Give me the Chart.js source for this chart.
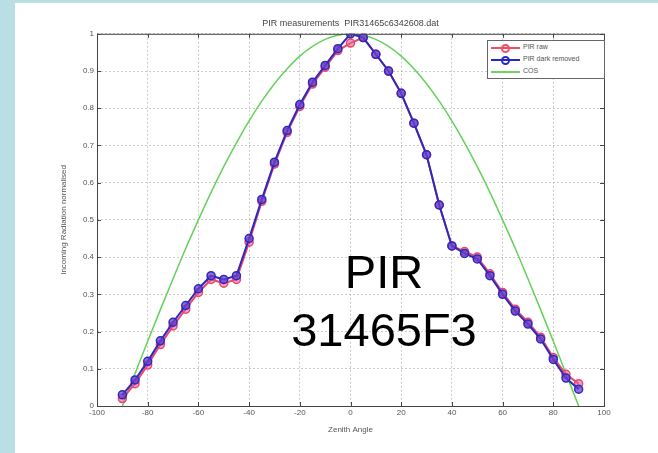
<!DOCTYPE html>
<html>
<head>
<meta charset="utf-8">
<script src="https://cdn.jsdelivr.net/npm/chart.js@4.4.0/dist/chart.umd.min.js"></script>
<style>
    body { margin: 0; background: rgb(185, 222, 227); }
    #page { position: absolute; left: 15px; top: 3px; width: 643px; height: 450px; background: #fff; z-index: -1; }
    #chart { position: absolute; left: 0; top: 0; }
    #legend { position: absolute; left: 487px; top: 40px; width: 116px; height: 37px; border: 1px solid #666; background: #fff;
              font-family: "Liberation Sans", Arial, sans-serif; font-size: 7px; color: #555; }
    .row { position: absolute; left: 0; width: 116px; height: 12px; }
    .row .line { position: absolute; left: 3px; top: 5px; width: 29px; height: 2px; }
    .row .dot { position: absolute; left: 13px; top: 2px; width: 5px; height: 5px; border-radius: 50%; border: 2px solid; }
    .row span { position: absolute; left: 35px; top: 1px; }
    #label { position: absolute; left: 284px; top: 243px; width: 200px; text-align: center;
             font-family: "Liberation Sans", Arial, sans-serif; font-size: 47px; line-height: 58px; color: #000; }
</style>
</head>
<body>
<div id="page"></div>
<canvas id="chart" width="658" height="453"></canvas>
<div id="legend">
    <div class="row" style="top:1px"><div class="line" style="background:rgb(240,80,100)"></div><div class="dot" style="border-color:rgb(240,80,100)"></div><span>PIR raw</span></div>
    <div class="row" style="top:13px"><div class="line" style="background:rgb(40,40,200)"></div><div class="dot" style="border-color:rgb(40,40,200)"></div><span>PIR dark removed</span></div>
    <div class="row" style="top:25px"><div class="line" style="background:rgb(110,210,100)"></div><span>COS</span></div>
</div>
<div id="label">PIR<br>31465F3</div>

<script>
// data
const angles = [-90, -85, -80, -75, -70, -65, -60, -55, -50, -45, -40, -35, -30, -25, -20, -15, -10, -5, 0,
                5, 10, 15, 20, 25, 30, 35, 40, 45, 50, 55, 60, 65, 70, 75, 80, 85, 90];

const pirRaw = [0.02, 0.06, 0.11, 0.165, 0.215, 0.26, 0.305, 0.34, 0.33, 0.34, 0.44, 0.55, 0.65, 0.735, 0.805, 0.865, 0.91, 0.955, 0.975,
                0.99, 0.945, 0.9, 0.84, 0.76, 0.675, 0.54, 0.43, 0.415, 0.4, 0.355, 0.305, 0.26, 0.225, 0.185, 0.13, 0.085, 0.06];

const pirDarkRemoved = [0.03, 0.07, 0.12, 0.175, 0.225, 0.27, 0.315, 0.35, 0.34, 0.35, 0.45, 0.555, 0.655, 0.74, 0.81, 0.87, 0.915, 0.96, 1.0,
                        0.99, 0.945, 0.9, 0.84, 0.76, 0.675, 0.54, 0.43, 0.41, 0.395, 0.35, 0.3, 0.255, 0.22, 0.18, 0.125, 0.075, 0.045];

const cosCurve = [0, 0.087, 0.174, 0.259, 0.342, 0.423, 0.5, 0.574, 0.643, 0.707, 0.766, 0.819, 0.866, 0.906, 0.94, 0.966, 0.985, 0.996, 1.0,
                  0.996, 0.985, 0.966, 0.94, 0.906, 0.866, 0.819, 0.766, 0.707, 0.643, 0.574, 0.5, 0.423, 0.342, 0.259, 0.174, 0.087, 0];

const xTicks = [-100, -80, -60, -40, -20, 0, 20, 40, 60, 80, 100];
const yTicks = [0, 0.1, 0.2, 0.3, 0.4, 0.5, 0.6, 0.7, 0.8, 0.9, 1];

function toPoints(values) {
    return angles.map((a, i) => ({ x: a, y: values[i] }));
}

const tickFont = { family: 'Liberation Sans', size: 8 };

// box around the axes with small inward ticks (matlab style)
const framePlugin = {
    id: 'frame',
    afterDatasetsDraw(chart) {
        const { ctx, chartArea: a, scales } = chart;
        ctx.save();
        ctx.strokeStyle = '#444';
        ctx.lineWidth = 1;
        ctx.strokeRect(a.left + 0.5, a.top + 0.5, a.right - a.left, a.bottom - a.top);
        ctx.beginPath();
        xTicks.forEach(v => {
            const px = Math.round(scales.x.getPixelForValue(v)) + 0.5;
            ctx.moveTo(px, a.bottom); ctx.lineTo(px, a.bottom - 4);
            ctx.moveTo(px, a.top); ctx.lineTo(px, a.top + 4);
        });
        yTicks.forEach(v => {
            const py = Math.round(scales.y.getPixelForValue(v)) + 0.5;
            ctx.moveTo(a.left, py); ctx.lineTo(a.left + 4, py);
            ctx.moveTo(a.right, py); ctx.lineTo(a.right - 4, py);
        });
        ctx.stroke();
        ctx.restore();
    }
};

new Chart(document.getElementById('chart'), {
    type: 'line',
    data: {
        datasets: [
            {
                label: 'PIR dark removed',
                data: toPoints(pirDarkRemoved),
                borderColor: 'rgb(45, 40, 190)',
                backgroundColor: 'rgba(105, 65, 205, 0.75)',
                borderWidth: 2,
                pointRadius: 4,
                pointBorderWidth: 1.5,
                order: 0
            },
            {
                label: 'PIR raw',
                data: toPoints(pirRaw),
                borderColor: 'rgb(235, 70, 110)',
                backgroundColor: 'rgba(225, 100, 150, 0.6)',
                borderWidth: 2,
                pointRadius: 4,
                pointBorderWidth: 1.5,
                order: 1
            },
            {
                label: 'COS',
                data: toPoints(cosCurve),
                borderColor: 'rgb(100, 210, 90)',
                borderWidth: 1.5,
                pointRadius: 0,
                cubicInterpolationMode: 'monotone',
                order: 2
            }
        ]
    },
    options: {
        responsive: false,
        animation: false,
        layout: { padding: { left: 0, right: 54, top: 0, bottom: 0 } },
        plugins: {
            legend: { display: false },
            tooltip: { enabled: false },
            title: {
                display: true,
                fullSize: false,
                text: 'PIR measurements  PIR31465c6342608.dat',
                color: '#444',
                font: { family: 'Liberation Sans', size: 9, weight: 'normal' },
                padding: { top: 18, bottom: 5 }
            }
        },
        scales: {
            x: {
                type: 'linear',
                min: -100,
                max: 100,
                afterBuildTicks: s => { s.ticks = xTicks.map(v => ({ value: v })); },
                afterFit: s => { s.height = 47; },
                ticks: { color: '#555', font: tickFont, padding: 2, maxRotation: 0 },
                grid: { color: 'rgba(0, 0, 0, 0.2)', drawTicks: false },
                border: { display: false, dash: [2, 2] },
                title: {
                    display: true,
                    text: 'Zenith Angle',
                    color: '#555',
                    font: tickFont,
                    padding: { top: 0, bottom: 18 }
                }
            },
            y: {
                type: 'linear',
                min: 0,
                max: 1,
                afterBuildTicks: s => { s.ticks = yTicks.map(v => ({ value: v })); },
                afterFit: s => { s.width = 97; },
                ticks: {
                    color: '#555',
                    font: tickFont,
                    padding: 3,
                    callback: v => String(Number(v.toFixed(1)))
                },
                grid: { color: 'rgba(0, 0, 0, 0.2)', drawTicks: false },
                border: { display: false, dash: [2, 2] },
                title: {
                    display: true,
                    text: 'Incoming Radiation normalised',
                    color: '#555',
                    font: tickFont,
                    padding: { top: 59, bottom: 0 }
                }
            }
        }
    },
    plugins: [framePlugin]
});
</script>
</body>
</html>
